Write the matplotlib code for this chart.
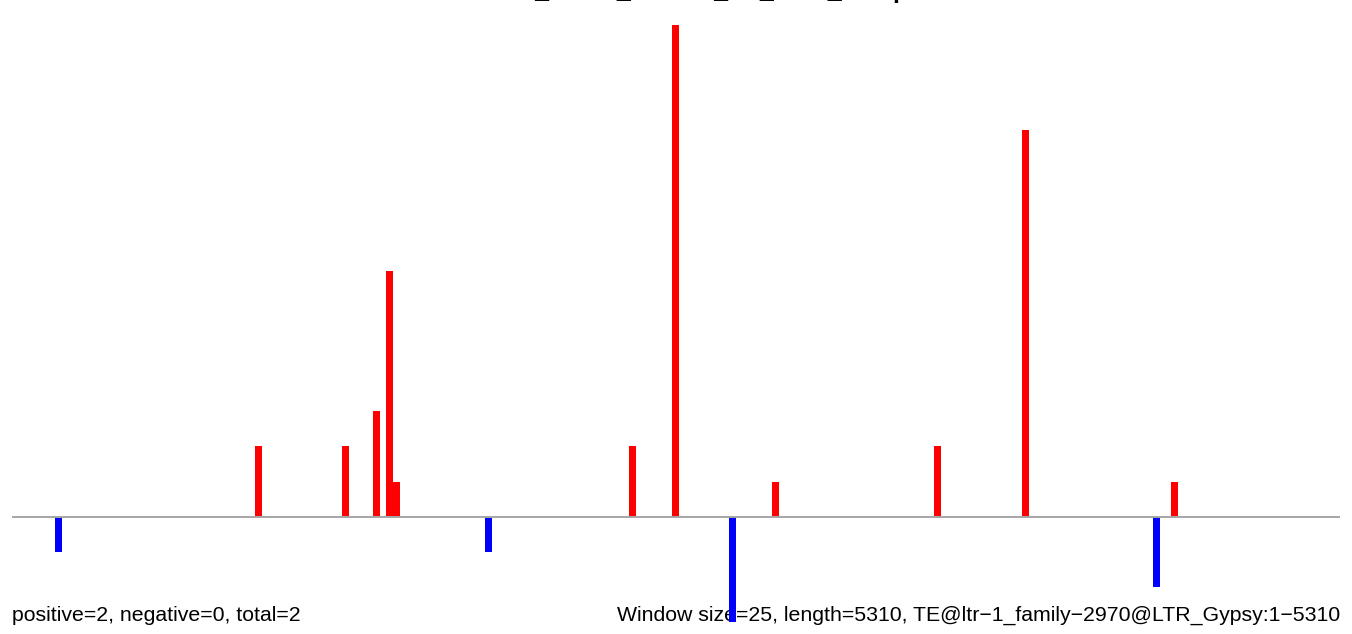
import matplotlib
matplotlib.use('Agg')
import matplotlib.pyplot as plt

plt.rcParams['font.family'] = ['Liberation Sans', 'DejaVu Sans']

# window start positions (bp) and counts
window_size = 25
seq_length = 5310
pos_starts = [972, 1320, 1444, 1496, 1524, 2468, 2640, 3040, 3688, 4040, 4636]
pos_counts = [2, 2, 3, 7, 1, 2, 14, 1, 2, 11, 1]
neg_starts = [172, 1892, 2868, 4564]
neg_counts = [-1, -1, -3, -2]

title = 'Col0ddm1_sRNA_mature_TE_CHH_sumplot'
left_note = 'positive=2, negative=0, total=2'
right_note = 'Window size=25, length=5310, TE@ltr\u22121_family\u22122970@LTR_Gypsy:1\u22125310'

W, H = 1352, 634
fig = plt.figure(figsize=(W / 100, H / 100), dpi=100, facecolor='white')
ax = fig.add_axes([12 / W, 12 / H, 1328 / W, (622 - 25) / H])
ax.patch.set_visible(False)

ax.bar(pos_starts, pos_counts, width=window_size + 1, align='edge', color='#ff0000', linewidth=0, zorder=2)
ax.bar(neg_starts, neg_counts, width=window_size + 1, align='edge', color='#0000ff', linewidth=0, zorder=2)
ax.axhline(0, color='#a6a6a6', lw=1.4, zorder=3)

ax.set_xlim(0, seq_length + 2)
ax.set_ylim(-3, 14)
ax.axis('off')

# title sits mostly above the canvas, as in the original
fig.text(0.5, (H + 2) / H, title, ha='center', va='baseline', fontsize=18, fontweight='bold')
fig.text(12 / W, 13 / H, left_note, ha='left', va='baseline', fontsize=15.3, zorder=-1)
fig.text(1340 / W, 13 / H, right_note, ha='right', va='baseline', fontsize=15.3, zorder=-1)

fig.savefig('out.png', dpi=100, facecolor='white')
